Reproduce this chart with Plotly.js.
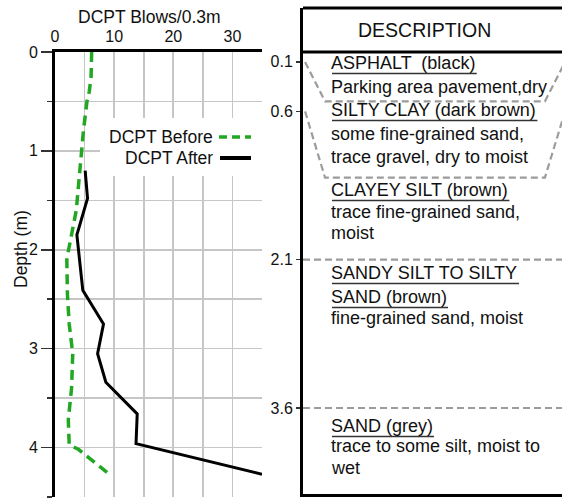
<!DOCTYPE html>
<html>
<head>
<meta charset="utf-8">
<script src="https://cdn.plot.ly/plotly-3.0.1.min.js"></script>
<style>html,body{margin:0;padding:0;background:#fff;}#chart{width:562px;height:498px;}</style>
</head>
<body>
<div id="chart"></div>
<script>
// ---- data ----
const depthBefore = [0, 0.25, 0.4, 0.5, 0.8, 1.1, 1.6, 2.0, 2.1, 2.45, 2.75, 3.05, 3.4, 3.72, 3.97, 4.02, 4.26];
const blowsBefore = [6.2, 6.1, 5.8, 5.4, 4.8, 4.4, 3.6, 2.3, 2.0, 2.1, 2.4, 3.0, 2.8, 2.25, 2.4, 4.0, 9.0];
const depthAfter = [1.2, 1.48, 1.85, 2.41, 2.75, 3.05, 3.34, 3.66, 3.96, 4.27];
const blowsAfter = [5.1, 5.5, 3.7, 4.7, 8.2, 7.2, 8.6, 13.9, 13.7, 35];
const seriesNames = ['DCPT Before', 'DCPT After'];
const xTickVals = [0, 10, 20, 30];
const yTickVals = [0, 1, 2, 3, 4];
const yMinorVals = [0.5, 1.5, 2.5, 3.5, 4.5];
const layerTops = [0.1, 0.6, 2.1, 3.6];
const layerTopLabels = ['0.1', '0.6', '2.1', '3.6'];
const zoneBottoms = [0.5, 1.27];   // bottoms of the dashed trapezoid outlines
const descLines = ['ASPHALT  (black)', 'Parking area pavement,dry', 'SILTY CLAY (dark brown)',
  'some fine-grained sand,', 'trace gravel, dry to moist', 'CLAYEY SILT (brown)',
  'trace fine-grained sand,', 'moist', 'SANDY SILT TO SILTY', 'SAND (brown)',
  'fine-grained sand, moist', 'SAND (grey)', 'trace to some silt, moist to', 'wet'];
const descUnderlined = [true, false, true, false, false, true, false, false, true, true, false, true, false, false];
const xTitle = 'DCPT Blows/0.3m';
const yTitle = 'Depth (m)';
const headerText = 'DESCRIPTION';

// ---- layout helpers (pixel -> paper) ----
const W = 562, H = 498, ML = 55, MR = 0, MT = 8, MB = 1;
const PW = W - ML - MR, PH = H - MT - MB;
const px = x => (x - ML) / PW;
const py = y => 1 - (y - MT) / PH;
const descPixY = [63, 87, 110, 134, 157, 190, 212, 233, 273, 297, 318, 426, 446, 468];
const DESC_X = 329, DESC_SIZE = 18;
const FONT = 'Liberation Sans, Arial, sans-serif';
const GRID = '#c6c6c6';
const GREEN = '#22a722';
const DASHGRAY = '#9c9c9c';

const measureCtx = document.createElement('canvas').getContext('2d');
measureCtx.font = DESC_SIZE + 'px "Liberation Sans", Arial, sans-serif';

const traces = [
  {x: blowsBefore, y: depthBefore, xaxis: 'x', yaxis: 'y', mode: 'lines', name: seriesNames[0],
   line: {color: GREEN, width: 3.5, dash: '10px,6px'}, showlegend: false},
  {x: blowsAfter, y: depthAfter, xaxis: 'x', yaxis: 'y', mode: 'lines', name: seriesNames[1],
   line: {color: '#000', width: 3}, showlegend: false}
];

const shapes = [];
// legend background box
shapes.push({type: 'rect', xref: 'paper', yref: 'paper', x0: px(100), x1: px(265), y0: py(176), y1: py(118),
  fillcolor: '#fff', line: {width: 0}, layer: 'above'});
// legend samples
shapes.push({type: 'line', xref: 'paper', yref: 'paper', x0: px(219), x1: px(251), y0: py(137), y1: py(137),
  line: {color: GREEN, width: 3.5, dash: '8px,5px'}});
shapes.push({type: 'line', xref: 'paper', yref: 'paper', x0: px(220), x1: px(251), y0: py(158), y1: py(158),
  line: {color: '#000', width: 4}});
// description box
shapes.push({type: 'line', xref: 'x2', yref: 'y2 domain', x0: 0, x1: 1.02, y0: 1, y1: 1, line: {color: '#000', width: 3}});
shapes.push({type: 'line', xref: 'x2', yref: 'y2', x0: 0, x1: 1.02, y0: 0, y1: 0, line: {color: '#000', width: 3}});
shapes.push({type: 'line', xref: 'x2', yref: 'y2 domain', x0: 0, x1: 1.02, y0: 0.003, y1: 0.003, line: {color: '#000', width: 3}});
// dashed trapezoid outlines for the upper layers
for (let i = 0; i < 2; i++) {
  const t = layerTops[i], b = zoneBottoms[i];
  shapes.push({type: 'path', xref: 'x2', yref: 'y2',
    path: `M 0.008,${t} L 0.085,${b} L 0.934,${b} L 1.012,${t}`,
    line: {color: DASHGRAY, width: 2.2, dash: '7px,4px'}});
}
// dashed layer boundaries
for (let i = 2; i < layerTops.length; i++) {
  shapes.push({type: 'line', xref: 'x2', yref: 'y2', x0: 0, x1: 1.02, y0: layerTops[i], y1: layerTops[i],
    line: {color: DASHGRAY, width: 2.2, dash: '7px,4px'}});
}

const annotations = [];
annotations.push({xref: 'paper', yref: 'paper', x: px(149), y: py(17), text: xTitle, showarrow: false,
  font: {family: FONT, size: 17.5, color: '#111'}, xanchor: 'center', yanchor: 'middle'});
annotations.push({xref: 'paper', yref: 'paper', x: px(21), y: py(249), text: yTitle, showarrow: false, textangle: -90,
  font: {family: FONT, size: 17.5, color: '#111'}, xanchor: 'center', yanchor: 'middle'});
annotations.push({xref: 'paper', yref: 'paper', x: px(215), y: py(137), text: seriesNames[0], showarrow: false,
  font: {family: FONT, size: 17.5, color: '#111'}, xanchor: 'right', yanchor: 'middle'});
annotations.push({xref: 'paper', yref: 'paper', x: px(215), y: py(158), text: seriesNames[1], showarrow: false,
  font: {family: FONT, size: 17.5, color: '#111'}, xanchor: 'right', yanchor: 'middle'});
annotations.push({xref: 'paper', yref: 'paper', x: px(424), y: py(30), text: headerText, showarrow: false,
  font: {family: FONT, size: 19.5, color: '#111'}, xanchor: 'center', yanchor: 'middle'});
descLines.forEach((t, i) => {
  const txt = t.replace(/  /g, ' \u00a0');
  annotations.push({xref: 'paper', yref: 'paper', x: px(DESC_X), y: py(descPixY[i]), text: txt, showarrow: false,
    font: {family: FONT, size: DESC_SIZE, color: '#111'}, xanchor: 'left', yanchor: 'middle'});
  if (descUnderlined[i]) {
    const w = measureCtx.measureText(txt).width;
    const uy = descPixY[i] + 10.5;
    shapes.push({type: 'line', xref: 'paper', yref: 'paper', x0: px(DESC_X + 3), x1: px(DESC_X + 3 + w),
      y0: py(uy), y1: py(uy), line: {color: '#333', width: 1.4}});
  }
});

const dpm = (497 - 52) / 4.5; // pixels per metre
const layout = {
  width: W, height: H,
  margin: {l: ML, r: MR, t: MT, b: MB, pad: 0},
  paper_bgcolor: '#fff', plot_bgcolor: 'rgba(0,0,0,0)',
  font: {family: FONT, color: '#111'},
  showlegend: false,
  xaxis: {domain: [0, px(262)], range: [0, 35], side: 'top', anchor: 'y',
    tickvals: xTickVals, ticks: '', ticklabelstandoff: 1,
    tickfont: {family: FONT, size: 16, color: '#111'},
    showline: true, linecolor: '#000', linewidth: 3,
    showgrid: true, gridcolor: GRID, gridwidth: 1.6, zeroline: false,
    minor: {dtick: 5, showgrid: true, gridcolor: GRID, gridwidth: 1.6, ticks: ''}},
  yaxis: {domain: [0, py(52)], range: [4.5, 0], anchor: 'x',
    tickvals: yTickVals, ticks: 'outside', ticklen: 11, tickwidth: 1.5, tickcolor: '#333',
    tickfont: {family: FONT, size: 16, color: '#111'},
    showline: true, linecolor: '#000', linewidth: 3,
    showgrid: true, gridcolor: GRID, gridwidth: 1.6, zeroline: false,
    minor: {tickvals: yMinorVals, ticks: 'outside', ticklen: 5, tickwidth: 1.5, tickcolor: '#333',
      showgrid: true, gridcolor: GRID, gridwidth: 1.6}},
  xaxis2: {domain: [px(303), 1], range: [0, 1], anchor: 'y2', visible: false},
  yaxis2: {domain: [0, 1], range: [4.5, 4.5 - (497 - 8) / dpm], anchor: 'x2',
    tickvals: layerTops, ticktext: layerTopLabels, ticks: 'outside', ticklen: 4, tickwidth: 1.5, tickcolor: '#333',
    ticklabelstandoff: 0,
    tickfont: {family: FONT, size: 16, color: '#111'},
    showline: true, linecolor: '#000', linewidth: 3, showgrid: false, zeroline: false},
  shapes: shapes,
  annotations: annotations
};

Plotly.newPlot('chart', traces, layout, {staticPlot: true, displayModeBar: false});
</script>
</body>
</html>
